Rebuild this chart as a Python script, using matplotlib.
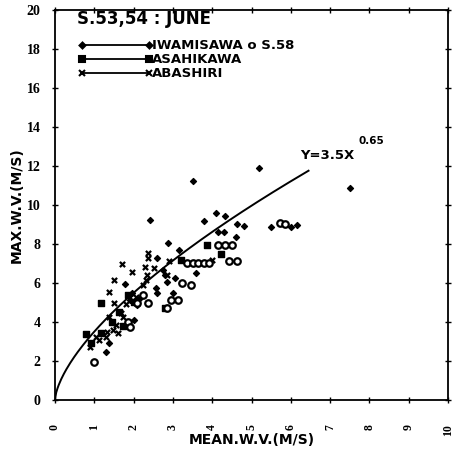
import numpy as np
import matplotlib
matplotlib.use('Agg')
import matplotlib.pyplot as plt

# mean vs. max wind velocity, June (S.53,54) and S.58
iwa_x = [3.5, 5.2, 7.5, 2.42, 3.8, 4.1, 4.33, 4.62, 4.81, 4.14, 4.31, 4.61,
         2.88, 3.16, 2.6, 3.6, 3.05, 3.0, 1.77, 2.8, 2.84, 6.0, 6.15, 5.5,
         1.3, 1.38, 2.57, 2.6, 1.95, 1.9, 2.15, 2.1, 2.0, 2.76]
iwa_y = [11.25, 11.9, 10.85, 9.25, 9.2, 9.6, 9.45, 9.0, 8.9, 8.63, 8.63, 8.37,
         8.07, 7.7, 7.28, 6.5, 6.25, 5.47, 5.95, 6.4, 6.07, 8.85, 8.95, 8.85,
         2.45, 2.9, 5.73, 5.47, 5.5, 5.1, 5.2, 4.85, 4.1, 6.67]

asa_x = [0.8, 1.17, 2.8, 3.2, 3.87, 1.46, 1.85, 2.0, 4.23, 0.92, 1.72, 1.63, 1.17]
asa_y = [3.38, 4.96, 4.7, 7.2, 7.95, 4.0, 5.4, 5.0, 7.5, 2.9, 3.8, 4.5, 3.42]

aba_x = [2.36, 2.36, 1.7, 1.97, 2.29, 2.33, 2.53, 1.5, 2.25, 2.31, 1.37, 1.5,
         1.68, 2.9, 4.0, 1.6, 1.33, 1.3, 1.05, 1.12, 2.05, 0.9, 1.8, 1.72,
         1.37, 1.55, 1.47, 2.84]
aba_y = [7.55, 7.3, 6.97, 6.58, 6.84, 6.41, 6.77, 6.15, 5.9, 6.15, 5.56, 4.97,
         4.45, 7.1, 7.2, 3.42, 3.5, 3.25, 3.25, 3.08, 5.3, 2.7, 4.9, 4.27,
         4.27, 3.85, 3.6, 6.41]

s58_x = [0.99, 1.85, 1.9, 2.36, 2.1, 2.25, 2.95, 3.12, 3.22, 3.47, 3.36, 3.5,
         3.65, 3.78, 3.92, 4.15, 4.32, 4.5, 4.44, 4.62, 5.72, 5.85, 2.84]
s58_y = [1.95, 4.0, 3.75, 4.96, 4.96, 5.4, 5.13, 5.13, 5.98, 5.9, 7.0, 7.0,
         7.0, 7.0, 7.0, 7.95, 7.95, 7.95, 7.1, 7.1, 9.1, 9.0, 4.7]

coef = 3.5
expo = 0.65
x_end = 6.45

fig = plt.figure(figsize=(4.54, 4.57), dpi=100)
ax = fig.add_axes([0.121, 0.125, 0.866, 0.853])

xs = np.linspace(0, x_end, 200)
ax.plot(xs, coef * xs ** expo, color='black', lw=1.4)

ax.scatter(iwa_x, iwa_y, marker='D', s=9, color='black', zorder=3)
ax.scatter(asa_x, asa_y, marker='s', s=14, color='black', zorder=3)
ax.scatter(aba_x, aba_y, marker='x', s=14, color='black', linewidths=1.6, zorder=3)
ax.scatter(s58_x, s58_y, marker='o', s=22, facecolors='white',
           edgecolors='black', linewidths=1.6, zorder=3)

# key
ax.text(0.55, 19.55, 'S.53,54 : JUNE', fontsize=12, fontweight='bold', va='center')
keys = [('D', 3, 'IWAMISAWA o S.58'), ('s', 4, 'ASAHIKAWA'), ('x', 4, 'ABASHIRI')]
for i, (mk, ms, name) in enumerate(keys):
    yy = 18.2 - 0.72 * i
    ax.plot([0.7, 2.4], [yy, yy], color='black', lw=1.3, marker=mk, ms=ms, mew=1.5)
    ax.text(2.47, yy, name, fontsize=9.5, fontweight='bold', va='center')

ax.text(6.25, 12.55, 'Y=3.5X', fontsize=9.5, fontweight='bold', va='center')
ax.text(7.72, 13.3, '0.65', fontsize=7.5, fontweight='bold', va='center')

ax.set_xlim(0, 10)
ax.set_ylim(0, 20)
ax.set_xticks(range(0, 11))
ax.set_yticks(range(0, 21, 2))
ax.tick_params(direction='inout', length=5, width=1, top=True, right=True)
for lab in ax.get_yticklabels():
    lab.set_fontfamily('Liberation Serif')
    lab.set_fontweight('bold')
    lab.set_fontsize(10)
for lab in ax.get_xticklabels():
    lab.set_fontfamily('Liberation Serif')
    lab.set_fontweight('bold')
    lab.set_fontsize(8.5)
    lab.set_rotation(90)
ax.tick_params(axis='x', pad=15)
ax.tick_params(axis='y', pad=8)
for sp in ax.spines.values():
    sp.set_linewidth(1.3)

ax.set_xlabel('MEAN.W.V.(M/S)', fontsize=10, fontweight='bold', labelpad=-2)
ax.set_ylabel('MAX.W.V.(M/S)', fontsize=10, fontweight='bold', labelpad=2)

fig.savefig('out.png', dpi=100)
